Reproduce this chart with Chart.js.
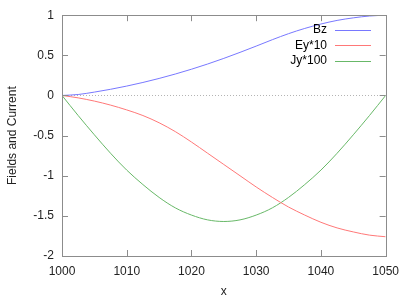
<!DOCTYPE html>
<html>
<head>
<meta charset="utf-8">
<script src="https://cdn.jsdelivr.net/npm/chart.js@4.4.1/dist/chart.umd.min.js"></script>
<style>
  html, body { margin: 0; padding: 0; background: #fff; }
  #wrap { width: 407px; height: 305px; }
</style>
</head>
<body>
<div id="wrap"><canvas id="fieldChart" width="407" height="305"></canvas></div>
<script>
// du lieu doc tu hinh
var xValues = [1000, 1002.5, 1005, 1007.5, 1010, 1012.5, 1015, 1017.5, 1020, 1022.5, 1025,
               1027.5, 1030, 1032.5, 1035, 1037.5, 1040, 1042.5, 1045, 1047.5, 1050];
var bz = [0, 0.012, 0.042, 0.077, 0.117, 0.162, 0.212, 0.267, 0.327, 0.392, 0.462,
          0.537, 0.615, 0.695, 0.770, 0.835, 0.890, 0.935, 0.967, 0.99, 1.0];
var ey10 = [0, -0.03, -0.07, -0.12, -0.18, -0.25, -0.34, -0.45, -0.58, -0.72, -0.86,
            -1.00, -1.14, -1.27, -1.39, -1.49, -1.58, -1.65, -1.70, -1.74, -1.76];
var jy100 = [0, -0.25, -0.49, -0.72, -0.93, -1.11, -1.27, -1.40, -1.49, -1.55, -1.57,
             -1.55, -1.49, -1.40, -1.27, -1.11, -0.93, -0.72, -0.49, -0.25, 0];
var seriesLabels = ['Bz', 'Ey*10', 'Jy*100'];
var xTicks = [1000, 1010, 1020, 1030, 1040, 1050];
var yTicks = [-2, -1.5, -1, -0.5, 0, 0.5, 1];

var FONT = '"Liberation Sans", Arial, sans-serif';
var frameColor = '#8c8c8c';

function toPoints(arr) {
    return arr.map(function (v, i) { return { x: xValues[i], y: v }; });
}

// khung, vach chia huong vao trong, duong 0 va chu thich kieu gnuplot
var gnuplotStyle = {
    id: 'gnuplotStyle',
    beforeDatasetsDraw: function (chart) {
        var c = chart.ctx, a = chart.chartArea;
        var ys = chart.scales.y;
        c.save();
        // duong y = 0
        var y0 = Math.round(ys.getPixelForValue(0)) + 0.5;
        c.strokeStyle = '#b4b4b4';
        c.lineWidth = 1;
        c.setLineDash([1, 2]);
        c.beginPath();
        c.moveTo(a.left, y0);
        c.lineTo(a.right, y0);
        c.stroke();
        c.restore();
    },
    afterDatasetsDraw: function (chart) {
        var c = chart.ctx, a = chart.chartArea;
        var xs = chart.scales.x, ys = chart.scales.y;
        var len = 6;
        c.save();
        c.strokeStyle = frameColor;
        c.lineWidth = 1;
        c.beginPath();
        xTicks.forEach(function (t) {
            var px = Math.round(xs.getPixelForValue(t)) + 0.5;
            c.moveTo(px, a.bottom); c.lineTo(px, a.bottom - len);
            c.moveTo(px, a.top); c.lineTo(px, a.top + len);
        });
        yTicks.forEach(function (t) {
            var py = Math.round(ys.getPixelForValue(t)) + 0.5;
            c.moveTo(a.left, py); c.lineTo(a.left + len, py);
            c.moveTo(a.right, py); c.lineTo(a.right - len, py);
        });
        c.stroke();
        c.strokeRect(Math.round(a.left) + 0.5, Math.round(a.top) + 0.5,
                     Math.round(a.right - a.left), Math.round(a.bottom - a.top));

        // chu thich
        c.font = '12px ' + FONT;
        c.textAlign = 'right';
        c.textBaseline = 'middle';
        chart.data.datasets.forEach(function (ds, i) {
            var ly = 30 + i * 15.3;
            c.fillStyle = '#000';
            c.fillText(ds.label, 327, ly);
            c.strokeStyle = ds.borderColor;
            c.beginPath();
            c.moveTo(335, Math.round(ly) + 0.5);
            c.lineTo(371, Math.round(ly) + 0.5);
            c.stroke();
        });
        c.restore();
    }
};

var ctx = document.getElementById('fieldChart').getContext('2d');
var fieldChart = new Chart(ctx, {
    type: 'line',
    data: {
        datasets: [{
            label: seriesLabels[0],
            data: toPoints(bz),
            borderColor: 'rgb(120,120,255)'
        }, {
            label: seriesLabels[1],
            data: toPoints(ey10),
            borderColor: 'rgb(255,120,120)'
        }, {
            label: seriesLabels[2],
            data: toPoints(jy100),
            borderColor: 'rgb(104,184,104)'
        }]
    },
    options: {
        responsive: false,
        animation: false,
        layout: { padding: { top: 14, right: 21, left: 0, bottom: 0 } },
        elements: {
            line: { borderWidth: 1, cubicInterpolationMode: 'monotone', fill: false },
            point: { radius: 0, hoverRadius: 0 }
        },
        plugins: {
            legend: { display: false },
            tooltip: { enabled: false }
        },
        scales: {
            x: {
                type: 'linear',
                min: 1000, max: 1050,
                afterFit: function (s) { s.height = 49; },
                afterBuildTicks: function (s) { s.ticks = xTicks.map(function (v) { return { value: v }; }); },
                grid: { display: false, drawTicks: false },
                border: { display: false },
                ticks: {
                    padding: 8,
                    color: '#222',
                    font: { family: FONT, size: 12 },
                    maxRotation: 0,
                    callback: function (v) { return String(v); }
                },
                title: {
                    display: true, text: 'x', color: '#222',
                    font: { family: FONT, size: 12 },
                    padding: { top: 0, bottom: 6 }
                }
            },
            y: {
                min: -2, max: 1,
                afterFit: function (s) { s.width = 62; },
                afterBuildTicks: function (s) { s.ticks = yTicks.map(function (v) { return { value: v }; }); },
                grid: { display: false, drawTicks: false },
                border: { display: false },
                ticks: {
                    padding: 8,
                    color: '#222',
                    font: { family: FONT, size: 12 },
                    callback: function (v) { return String(v); }
                },
                title: {
                    display: true, text: 'Fields and Current', color: '#222',
                    font: { family: FONT, size: 12 },
                    padding: { top: 5, bottom: 0 }
                }
            }
        }
    },
    plugins: [gnuplotStyle]
});
</script>
</body>
</html>
